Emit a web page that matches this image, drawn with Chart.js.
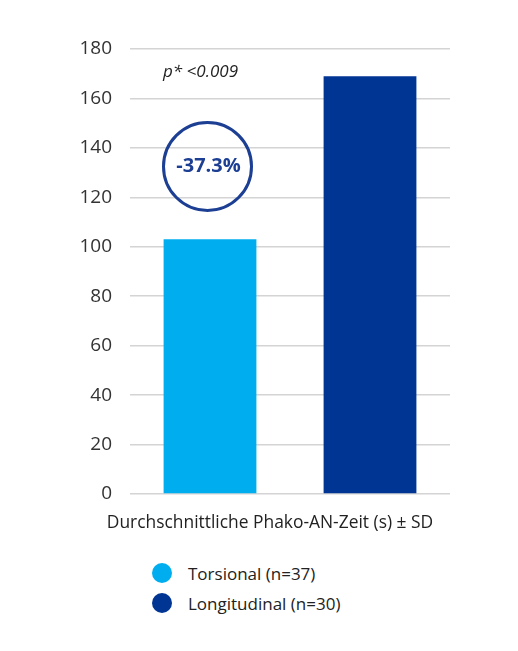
<!DOCTYPE html>
<html><head><meta charset="utf-8">
<script src="https://cdn.jsdelivr.net/npm/chart.js@4"></script>
<style>
html,body{margin:0;padding:0;background:#fff;}
#wrap{position:relative;width:518px;height:545px;}
#legend{position:absolute;left:0;top:561px;width:518px;font-family:"Open Sans",sans-serif;font-size:17px;color:#222;}
.li{position:absolute;left:152px;height:24px;display:flex;align-items:center;}
.dot{width:20px;height:20px;border-radius:50%;margin-right:16px;}
</style></head>
<body>
<div id="wrap"><canvas id="c" width="518" height="545"></canvas></div>
<div id="legend"></div>
<script>
const categories = ["Torsional (n=37)", "Longitudinal (n=30)"];
const values = [103, 169];
const colors = ["#00aeef", "#003594"];
const yTicks = [0, 20, 40, 60, 80, 100, 120, 140, 160, 180];
const axisTitle = "Durchschnittliche Phako-AN-Zeit (s) ± SD";
const pText = "p* <0.009";
const diffText = "-37.3%";

const annot = {
  id: 'annot',
  afterDatasetsDraw(chart) {
    const ctx = chart.ctx;
    const x = chart.scales.x, y = chart.scales.y;
    const cx = x.getPixelForValue(0) - 2.5;
    const cy = y.getPixelForValue(132.5);
    ctx.save();
    ctx.beginPath();
    ctx.arc(cx, cy, 44, 0, Math.PI * 2);
    ctx.lineWidth = 3;
    ctx.strokeStyle = "#1c3f94";
    ctx.stroke();
    ctx.fillStyle = "#1c3f94";
    ctx.font = "bold 20px 'Open Sans'";
    ctx.textAlign = "center";
    ctx.textBaseline = "middle";
    ctx.fillText(diffText, cx + 1, cy);
    ctx.fillStyle = "#222";
    ctx.font = "italic 17px 'Open Sans'";
    ctx.textAlign = "left";
    ctx.fillText(pText, 163, y.getPixelForValue(170.5));
    // axis title, centred under the whole figure as in the reference
    ctx.font = "17.4px 'Open Sans'";
    ctx.textAlign = "center";
    ctx.fillText(axisTitle, 270, chart.chartArea.bottom + 29);
    ctx.restore();
  }
};

new Chart(document.getElementById('c'), {
  type: 'bar',
  data: {
    labels: categories,
    datasets: [{ data: values, backgroundColor: colors, barPercentage: 0.58, categoryPercentage: 1.0 }]
  },
  plugins: [annot],
  options: {
    responsive: false,
    animation: false,
    devicePixelRatio: 1,
    layout: { padding: { left: 0, right: 68, top: 49, bottom: 51 } },
    plugins: { legend: { display: false }, tooltip: { enabled: false } },
    scales: {
      x: {
        grid: { display: false, drawTicks: false },
        border: { display: false },
        ticks: { display: false },
        title: { display: false }
      },
      y: {
        min: 0, max: 180,
        afterBuildTicks(s) { s.ticks = yTicks.map(v => ({ value: v })); },
        afterFit(s) { s.width = 130; },
        grid: { color: "#d4d4d4", lineWidth: 1.5, drawTicks: false },
        border: { display: false },
        ticks: { color: "#333", font: { family: "Open Sans", size: 19 }, padding: 18 }
      }
    }
  }
});

const lg = document.getElementById('legend');
categories.forEach((c, i) => {
  const d = document.createElement('div');
  d.className = 'li';
  d.style.top = (i * 30) + 'px';
  d.innerHTML = '<span class="dot" style="background:' + colors[i] + '"></span><span>' + c + '</span>';
  lg.appendChild(d);
});
</script>
</body></html>
